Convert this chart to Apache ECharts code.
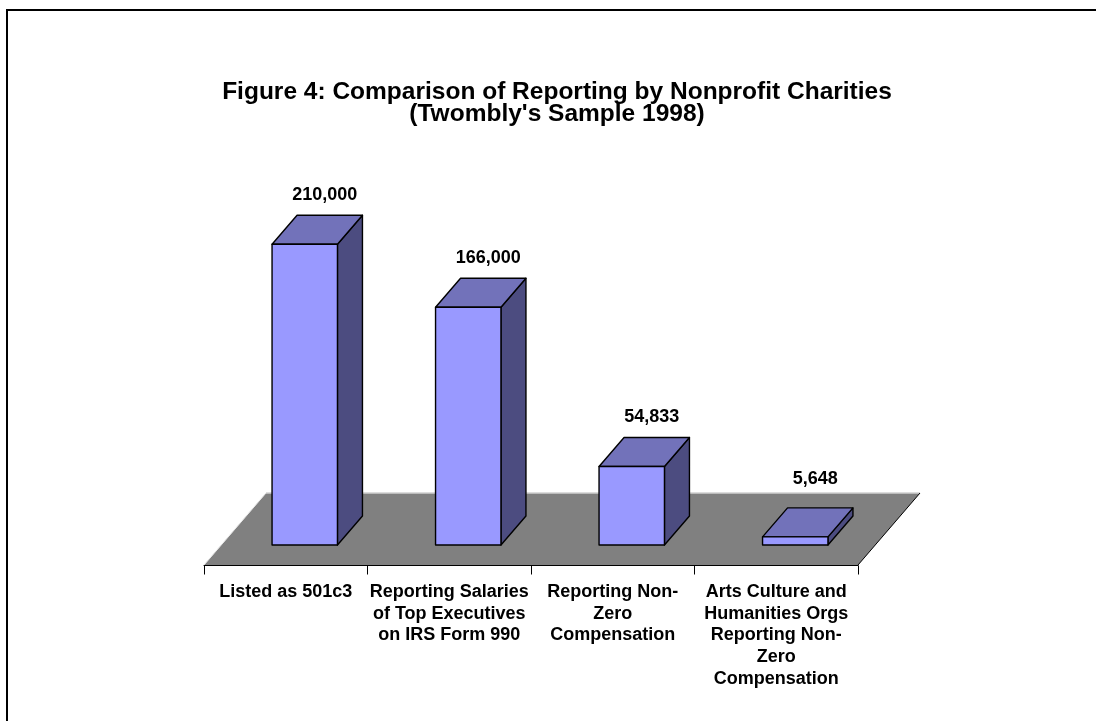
<!DOCTYPE html>
<html>
<head>
<meta charset="utf-8">
<style>
  html, body { margin: 0; padding: 0; background: #ffffff; }
  #chart { width: 1096px; height: 721px; }
</style>
<script src="https://cdn.jsdelivr.net/npm/echarts@6/dist/echarts.min.js"></script>
</head>
<body>
<div id="chart"></div>
<script>
// Categories and counts of charities
const categories = [
  'Listed as 501c3',
  'Reporting Salaries\nof Top Executives\non IRS Form 990',
  'Reporting Non-\nZero\nCompensation',
  'Arts Culture and\nHumanities Orgs\nReporting Non-\nZero\nCompensation'
];
const counts = [210000, 166000, 54833, 5648];
const titleLines = ['Figure 4: Comparison of Reporting by Nonprofit Charities', "(Twombly's Sample 1998)"];

const FONT = '"Liberation Sans", Arial, sans-serif';
const DEPTH_X = 25, DEPTH_Y = -29;          // oblique depth of each bar
const FLOOR_X = 62, FLOOR_Y = -72;          // oblique depth of the floor
const FLOOR_FRONT = 20;                     // floor front edge sits this far below the bar bases

function fmt(n) { return n.toLocaleString('en-US'); }

const chart = echarts.init(document.getElementById('chart'), null, { renderer: 'canvas' });

chart.setOption({
  backgroundColor: '#ffffff',
  animation: false,
  title: {
    text: titleLines.join('\n'),
    left: 552, top: 76,
    textAlign: 'center',
    textStyle: { fontFamily: FONT, fontWeight: 'bold', fontSize: 24.5, lineHeight: 22, color: '#000' }
  },
  graphic: [{
    type: 'rect', shape: { x: 7, y: 10, width: 1200, height: 800 },
    style: { fill: 'none', stroke: '#000', lineWidth: 2 }, silent: true
  }],
  grid: [
    { left: 223, width: 654, top: 187, bottom: 176 },   // bars
    { left: 204, width: 654, top: 187, bottom: 155.5 }  // floor and category axis
  ],
  xAxis: [
    { gridIndex: 0, type: 'category', data: categories, show: false },
    {
      gridIndex: 1, type: 'category', data: categories,
      axisLine: { show: true, lineStyle: { color: '#000', width: 1 } },
      axisTick: { show: true, length: 9, lineStyle: { color: '#000' } },
      axisLabel: {
        interval: 0, margin: 15.5, color: '#000',
        fontFamily: FONT, fontWeight: 'bold', fontSize: 18, lineHeight: 21.7, align: 'center'
      },
      splitLine: { show: false }
    }
  ],
  yAxis: [
    { gridIndex: 0, type: 'value', min: 0, max: 250000, show: false },
    { gridIndex: 1, type: 'value', min: 0, max: 1, show: false }
  ],
  series: [
    {
      // grey floor the bars stand on
      type: 'custom', xAxisIndex: 1, yAxisIndex: 1, z: 1, silent: true,
      data: [[0, 0]],
      renderItem: function (params) {
        const cs = params.coordSys;
        const yF = cs.y + cs.height - 0.5;
        const xL = cs.x, xR = cs.x + cs.width;
        const fl = [xL, yF], fr = [xR, yF];
        const br = [xR + FLOOR_X, yF + FLOOR_Y], bl = [xL + FLOOR_X, yF + FLOOR_Y];
        return {
          type: 'group',
          children: [
            { type: 'polygon', shape: { points: [fl, fr, br, bl] }, style: { fill: '#808080' } },
            { type: 'line', shape: { x1: bl[0], y1: bl[1], x2: br[0], y2: br[1] }, style: { stroke: '#d0d0d0', lineWidth: 1.5 } },
            { type: 'line', shape: { x1: fl[0], y1: fl[1], x2: bl[0], y2: bl[1] }, style: { stroke: '#e8e8e8', lineWidth: 1 } },
            { type: 'line', shape: { x1: fr[0], y1: fr[1], x2: br[0], y2: br[1] }, style: { stroke: '#000', lineWidth: 1 } }
          ]
        };
      }
    },
    {
      // 3-D style columns with value labels
      type: 'custom', xAxisIndex: 0, yAxisIndex: 0, z: 3, silent: true,
      data: counts.map(function (v, i) { return [i, v]; }),
      encode: { x: 0, y: 1 },
      renderItem: function (params, api) {
        const idx = api.value(0), v = api.value(1);
        const top = api.coord([idx, v]);
        const base = api.coord([idx, 0]);
        const w = api.size([1, 0])[0] * 0.4;
        const x0 = top[0] - w / 2, x1 = top[0] + w / 2;
        const yT = top[1], yB = base[1];
        const floorBack = yB + FLOOR_FRONT + FLOOR_Y;
        // label above the bar, but kept clear of the floor's back edge
        const labelY = Math.min(yT + DEPTH_Y - 20, floorBack - 14);
        const stroke = { stroke: '#000', lineWidth: 1.4, lineJoin: 'round' };
        return {
          type: 'group',
          children: [
            { type: 'polygon',
              shape: { points: [[x1, yT], [x1 + DEPTH_X, yT + DEPTH_Y], [x1 + DEPTH_X, yB + DEPTH_Y], [x1, yB]] },
              style: Object.assign({ fill: '#4c4c80' }, stroke) },
            { type: 'polygon',
              shape: { points: [[x0, yT], [x1, yT], [x1 + DEPTH_X, yT + DEPTH_Y], [x0 + DEPTH_X, yT + DEPTH_Y]] },
              style: Object.assign({ fill: '#7272ba' }, stroke) },
            { type: 'polygon',
              shape: { points: [[x0, yT], [x1, yT], [x1, yB], [x0, yB]] },
              style: Object.assign({ fill: '#9999ff' }, stroke) },
            { type: 'text',
              style: {
                x: top[0] + 20, y: labelY,
                text: fmt(v), align: 'center', verticalAlign: 'middle',
                fontFamily: FONT, fontWeight: 'bold', fontSize: 18, fill: '#000'
              } }
          ]
        };
      }
    }
  ]
});
</script>
</body>
</html>
